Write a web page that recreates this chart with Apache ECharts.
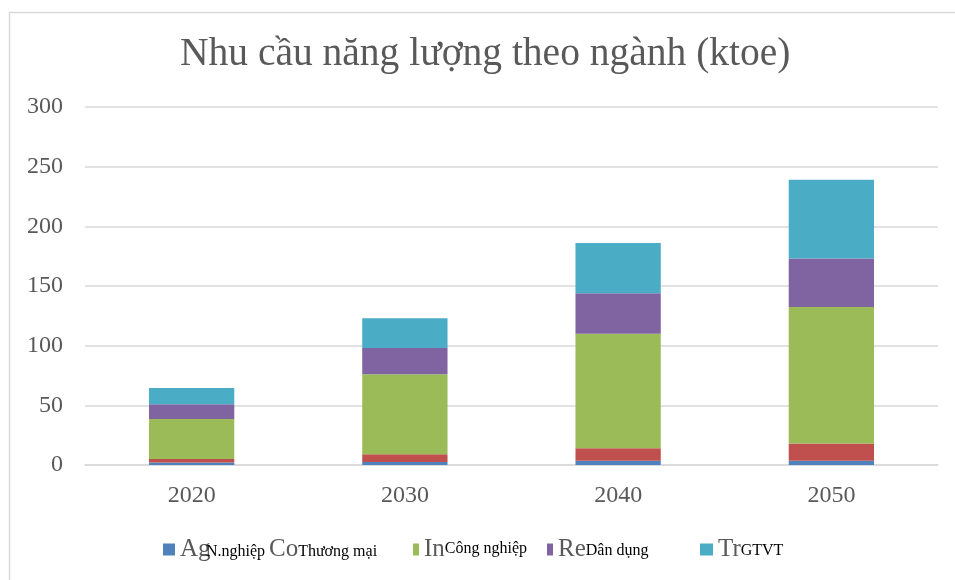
<!DOCTYPE html>
<html>
<head>
<meta charset="utf-8">
<script src="https://cdn.jsdelivr.net/npm/echarts@6/dist/echarts.min.js"></script>
<style>
  html, body { margin: 0; padding: 0; background: #fff; }
  #chart { width: 955px; height: 580px; }
</style>
</head>
<body>
<div id="chart"></div>
<script>
// Categories and values (ktoe)
const years = ['2020', '2030', '2040', '2050'];
const agriculture = [2, 2.5, 3.5, 3.5];
const commercial = [3, 6.5, 10.5, 14.5];
const industry = [33.5, 67, 96, 114.5];
const residential = [12.5, 22, 34, 40.5];
const transport = [13.5, 25, 42, 66];

// Legend labels: clipped english code + vietnamese sector name
const codes = ['Ag', 'Co', 'In', 'Re', 'Tr'];
const sectors = ['N.nghiệp', 'Thương mại', 'Công nghiệp', 'Dân dụng', 'GTVT'];
const colors = ['#4f81bd', '#c0504d', '#9bbb59', '#8064a2', '#4bacc6'];
const seriesData = [agriculture, commercial, industry, residential, transport];

const chart = echarts.init(document.getElementById('chart'), null, { renderer: 'canvas' });

const series = codes.map((code, i) => ({
  name: code,
  type: 'bar',
  stack: 'total',
  data: seriesData[i],
  barWidth: '40%',
  itemStyle: { color: colors[i] },
  emphasis: { disabled: true }
}));

// one legend per entry so each can sit where it is in the reference
const legendLayout = [
  { left: 163, itemWidth: 12, raise: 2, codeWidth: 26 },
  { left: 264, itemWidth: 0, hidden: true, raise: 2 },
  { left: 413, itemWidth: 6, raise: 5 },
  { left: 547, itemWidth: 6, raise: 3 },
  { left: 700, itemWidth: 13, raise: 3 }
];

const legends = codes.map((code, i) => {
  const lay = legendLayout[i];
  const codeStyle = { fontFamily: 'Liberation Serif', fontSize: 25, color: '#595959', verticalAlign: 'bottom' };
  if (lay.codeWidth) codeStyle.width = lay.codeWidth;
  return {
    data: [{ name: code, icon: 'rect' }],
    top: 537,
    left: lay.left,
    padding: 0,
    itemWidth: lay.itemWidth,
    itemHeight: 12,
    itemStyle: lay.hidden ? { opacity: 0 } : {},
    selectedMode: false,
    formatter: name => '{c|' + name + '}{v|' + sectors[i] + '}',
    textStyle: {
      rich: {
        c: codeStyle,
        v: {
          fontFamily: 'Liberation Serif', fontSize: 16, color: '#000',
          verticalAlign: 'bottom', padding: [0, 0, lay.raise, 0]
        }
      }
    }
  };
});

const option = {
  animation: false,
  backgroundColor: '#fff',
  title: {
    text: 'Nhu cầu năng lượng theo ngành (ktoe)',
    left: 180,
    top: 35,
    padding: 0,
    textStyle: {
      fontFamily: 'Liberation Serif',
      fontSize: 39.5,
      fontWeight: 'normal',
      color: '#595959'
    }
  },
  legend: legends,
  grid: { left: 85, right: 17, top: 107, bottom: 115 },
  xAxis: {
    type: 'category',
    data: years,
    axisLine: { lineStyle: { color: '#d9d9d9', width: 1.5 } },
    axisTick: { show: false },
    axisLabel: {
      margin: 19,
      fontFamily: 'Liberation Serif',
      fontSize: 24,
      color: '#595959'
    }
  },
  yAxis: {
    type: 'value',
    min: 0,
    max: 300,
    interval: 50,
    axisLine: { show: false },
    axisTick: { show: false },
    splitLine: { lineStyle: { color: '#d9d9d9', width: 1.5 } },
    axisLabel: {
      margin: 22,
      fontFamily: 'Liberation Serif',
      fontSize: 24,
      color: '#595959'
    }
  },
  graphic: [{
    type: 'rect',
    left: 7,
    top: 10,
    shape: { width: 1000, height: 600 },
    style: { fill: 'none', stroke: '#d9d9d9', lineWidth: 1.5 },
    silent: true,
    z: -1
  }],
  series: series
};

chart.setOption(option);
</script>
</body>
</html>
